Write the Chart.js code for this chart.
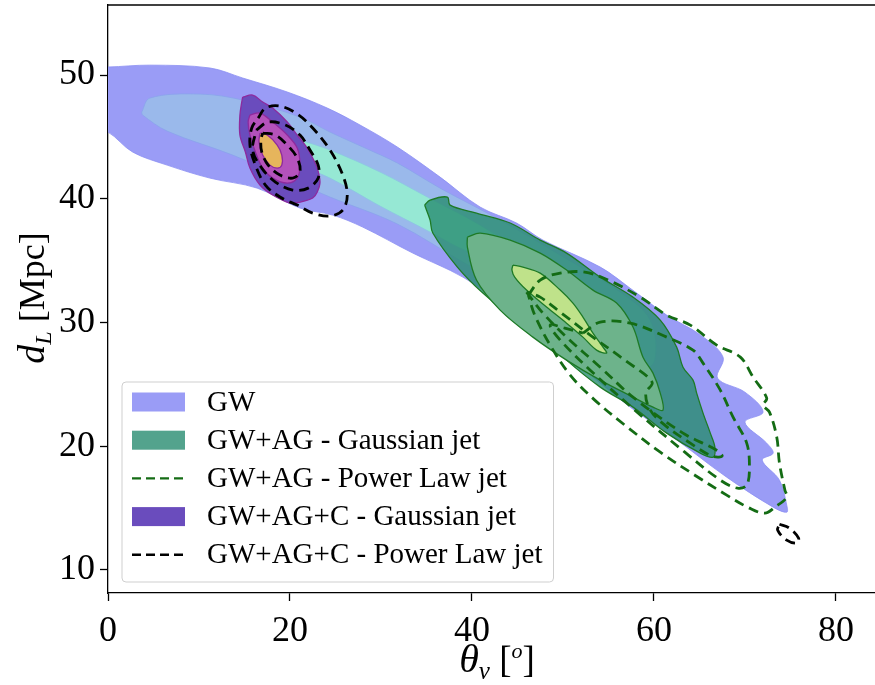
<!DOCTYPE html>
<html>
<head>
<meta charset="utf-8">
<script src="https://cdn.jsdelivr.net/npm/chart.js@4.4.1/dist/chart.umd.min.js"></script>
<style>
  html, body { margin: 0; padding: 0; background: #fff; }
</style>
</head>
<body>
<canvas id="chart" width="875" height="685"></canvas>
<script>
// axes
const xTicks = [0, 20, 40, 60, 80];
const yTicks = [10, 20, 30, 40, 50];
const xRange = [0, 84.3];
const yRange = [8.14, 55.66];
const xTitle = ['θ', 'v', ' [', 'o', ']'];
const yTitle = ['d', 'L', ' [Mpc]'];
const legendLabels = ['GW', 'GW+AG - Gaussian jet', 'GW+AG - Power Law jet',
                      'GW+AG+C - Gaussian jet', 'GW+AG+C - Power Law jet'];

// GW credible regions, [theta_v, d_L], outer -> inner
const gwOuter = [[-1, 50.7], [0, 50.65], [4.6, 50.8], [11.2, 50.57], [14.8, 49.76], [19.7, 48.63],
  [24.1, 47.33], [27.7, 45.96], [31.8, 44.18], [36.5, 41.75], [40.9, 39.33], [44.9, 38.04],
  [47.8, 36.66], [54.1, 34.48], [57.7, 32.6], [61.4, 30.6], [65.1, 29.0], [67.6, 27.2],
  [67.0, 25.5], [70.0, 24.37], [72.0, 22.76], [70.0, 21.95], [72.4, 20.25], [73.1, 19.44],
  [71.9, 18.88], [73.8, 17.26], [74.6, 15.24], [74.6, 14.67], [73.1, 15.08], [68.0, 17.5],
  [62.1, 20.74], [57.4, 23.16], [51.1, 26.96], [47.5, 29.14], [43.8, 31.25], [39.0, 33.67],
  [33.5, 35.61], [28.0, 37.71], [24.7, 38.68], [21.1, 39.25], [16.4, 40.86], [11.2, 41.67],
  [6.5, 42.72], [2.7, 43.78], [0, 45.39], [-1, 45.3]];
const gwMid = [[3.7, 47.0], [4.6, 48.14], [10.1, 48.46], [14.8, 47.98], [21.1, 46.6], [24.4, 45.39],
  [28.5, 44.02], [31.8, 42.89], [36.5, 40.86], [43.1, 38.28], [49.7, 35.45], [56.3, 32.46],
  [59.6, 30.19], [60.1, 26.96], [58.5, 26.15], [54.1, 28.17], [47.5, 31.41], [39.0, 34.88],
  [31.8, 37.96], [24.4, 40.14], [21.1, 41.19], [13.7, 43.53], [6.5, 45.47], [3.8, 46.77]];
const gwInner = [[17.6, 45.55], [21.1, 44.75], [24.4, 43.94], [29.9, 42.16], [35.1, 40.14],
  [40.9, 37.87], [45.3, 35.69], [46.2, 34.64], [43.6, 34.56], [38.7, 36.01], [35.4, 37.31],
  [29.9, 39.41], [24.4, 41.67], [21.1, 42.64], [18.4, 43.53], [17.0, 44.58]];

// GW+AG, Gaussian jet
const agGaussOuter = [[34.8, 39.49], [35.4, 39.89], [37.3, 40.14], [37.6, 39.49], [40.5, 38.84],
  [44.2, 38.04], [47.5, 36.66], [50.4, 35.61], [54.1, 33.67], [57.7, 32.05], [60.7, 30.19],
  [62.5, 28.01], [63.2, 26.39], [64.3, 25.34], [64.7, 24.29], [65.4, 22.68], [66.2, 21.06],
  [66.7, 19.93], [66.5, 19.12], [65.1, 19.44], [61.4, 21.06], [57.7, 23.16], [54.1, 24.78],
  [50.4, 26.96], [48.6, 28.33], [44.9, 30.19], [41.2, 32.38], [38.4, 34.48], [35.7, 37.23],
  [35.4, 38.28]];
const agGaussMid = [[39.5, 36.9], [40.9, 37.23], [44.2, 36.66], [47.5, 35.61], [50.4, 34.24],
  [53.3, 32.62], [55.9, 31.57], [57.7, 29.63], [58.8, 27.2], [59.9, 25.91], [60.7, 24.29],
  [61.0, 22.92], [59.9, 23.16], [57.7, 23.97], [54.1, 25.34], [50.4, 26.96], [46.7, 28.82],
  [43.1, 31.0], [40.5, 33.43], [39.5, 36.09]];
const agGaussInner = [[44.5, 34.64], [45.6, 34.48], [47.5, 33.99], [49.7, 32.62], [51.1, 31.57],
  [52.2, 30.44], [53.3, 29.14], [54.4, 28.01], [54.8, 27.53], [53.7, 27.77], [52.2, 28.82],
  [50.4, 29.95], [48.2, 31.25], [46.0, 32.62], [44.7, 33.67], [44.4, 34.24]];

// GW+AG, power law jet
const agPlOuter = [[46.2, 32.21], [47.5, 33.43], [49.7, 33.99], [52.4, 34.07], [55.2, 33.35],
  [58.5, 32.05], [61.4, 30.6], [64.0, 29.79], [66.9, 28.17], [69.5, 27.2], [70.9, 25.59],
  [72.4, 23.89], [72.0, 23.32], [72.7, 22.76], [73.5, 20.74], [73.8, 18.63], [74.4, 16.45],
  [74.6, 15.89], [73.3, 15.08], [72.2, 14.59], [70.5, 15.0], [68.0, 16.05], [64.5, 17.66],
  [60.7, 19.52], [56.8, 21.71], [53.5, 23.73], [50.8, 25.75], [48.6, 28.17], [46.9, 30.6]];
const agPlMid = [[52.2, 29.14], [54.1, 30.03], [57.4, 29.95], [61.4, 28.82], [64.3, 27.77],
  [65.4, 26.72], [67.3, 24.53], [68.7, 22.35], [70.2, 20.25], [70.5, 18.31], [70.2, 16.86],
  [69.2, 16.61], [67.3, 17.26], [63.4, 19.52], [57.9, 22.92], [53.0, 26.15], [49.7, 28.58],
  [48.6, 29.79], [50.2, 29.55]];
const agPlInner = [[46.0, 32.46], [47.8, 30.76], [50.4, 28.82], [54.1, 26.39], [57.7, 23.97],
  [63.2, 21.06], [66.9, 19.68], [67.5, 19.2], [66.4, 19.2], [64.0, 20.25], [61.2, 21.71],
  [59.6, 22.92], [59.1, 24.29], [59.8, 25.18], [56.8, 26.96], [53.0, 28.98], [49.7, 30.84],
  [47.5, 32.05]];

// GW+AG+C, Gaussian jet
const agcGaussOuter = [[14.8, 48.22], [15.9, 48.38], [17.0, 47.82], [18.1, 47.33], [19.7, 46.2],
  [20.8, 45.15], [21.9, 44.1], [22.5, 43.29], [23.0, 42.48], [23.3, 41.35], [23.0, 40.54],
  [22.5, 40.06], [21.1, 39.73], [20.0, 39.65], [18.1, 40.3], [16.7, 41.11], [15.6, 42.48],
  [15.1, 43.78], [14.5, 45.15], [14.5, 46.77], [14.7, 47.82]];
const agcGaussMid = [[15.6, 46.77], [16.7, 46.93], [18.1, 46.2], [19.7, 45.15], [20.8, 44.1],
  [21.1, 42.72], [20.8, 41.67], [19.7, 41.27], [18.1, 41.67], [17.0, 42.48], [16.2, 43.78],
  [15.6, 45.15], [15.4, 46.2]];
const agcGaussInner = [[16.7, 45.31], [17.5, 45.15], [18.6, 44.34], [19.1, 43.53], [19.1, 42.72],
  [18.6, 42.48], [17.8, 42.72], [17.0, 43.53], [16.6, 44.58]];

// GW+AG+C, power law jet
const agcPlOuter = [[16.5, 46.52], [17.3, 47.33], [18.9, 47.49], [20.8, 46.85], [22.5, 45.72],
  [24.4, 43.94], [25.8, 41.92], [26.3, 40.3], [25.8, 39.09], [24.4, 38.6], [22.5, 38.84],
  [20.8, 39.49], [18.9, 40.14], [17.3, 41.11], [16.2, 42.72], [15.6, 44.34], [15.8, 45.72]];
const agcPlMid = [[16.3, 45.55], [17.6, 46.2], [19.5, 45.96], [21.1, 45.15], [22.2, 43.94],
  [23.1, 42.72], [23.1, 41.67], [22.0, 40.86], [20.3, 40.7], [18.4, 41.35], [16.9, 42.48],
  [15.9, 43.94]];
const agcPlInner = [[17.0, 45.31], [18.4, 45.15], [19.7, 44.34], [20.8, 43.29], [21.1, 42.16],
  [20.3, 41.67], [18.9, 41.92], [17.6, 42.72], [16.9, 43.78], [16.8, 44.75]];
const agcPlIsland = [[73.8, 13.7], [74.9, 13.38], [75.9, 12.57], [75.7, 12.17], [74.6, 12.41],
  [73.6, 13.22]];

const serif = "'Liberation Serif', 'DejaVu Serif', serif";

function loop(points) {
  return points.concat([points[0]]).map(p => ({ x: p[0], y: p[1] }));
}
function filled(points, fill, edge, edgeWidth, group) {
  return {
    data: loop(points), showLine: true, fill: 'shape', backgroundColor: fill,
    borderColor: edge, borderWidth: edgeWidth, pointRadius: 0, tension: 0.35, group: group
  };
}
function dashed(points, color, group) {
  return {
    data: loop(points), showLine: true, fill: false, borderColor: color, borderWidth: 2.8,
    borderDash: [10, 6], pointRadius: 0, tension: 0.35, group: group
  };
}

const green = '#146c14';
const datasets = [
  filled(gwOuter, '#9a9cf6', '#8c8ff2', 0.8, 0),
  filled(gwMid, '#9ab9eb', '#8aa3ec', 0.8, 0),
  filled(gwInner, '#96e8d4', '#8cc6e2', 0.8, 0),
  filled(agGaussOuter, 'rgba(40,140,112,0.8)', '#1e7a26', 1.3, 1),
  filled(agGaussMid, '#6db38b', '#1e7a26', 1.3, 1),
  filled(agGaussInner, '#bfe28a', '#1e7a26', 1.3, 1),
  dashed(agPlOuter, green, 2),
  dashed(agPlMid, green, 2),
  dashed(agPlInner, green, 2),
  filled(agcGaussOuter, '#6a4cbd', '#8e2a9e', 1.3, 3),
  filled(agcGaussMid, '#b452bb', '#8e2a9e', 1.3, 3),
  filled(agcGaussInner, '#e6b55c', '#8e2a9e', 1.3, 3),
  dashed(agcPlOuter, '#000', 4),
  dashed(agcPlMid, '#000', 4),
  dashed(agcPlInner, '#000', 4),
  dashed(agcPlIsland, '#000', 4)
];
// later datasets on top
datasets.forEach((d, i) => { d.order = datasets.length - i; });

const extras = {
  id: 'extras',
  afterDraw(chart) {
    const ctx = chart.ctx;
    const a = chart.chartArea;
    ctx.save();
    // top spine
    ctx.strokeStyle = '#000';
    ctx.lineWidth = 1.3;
    ctx.beginPath();
    ctx.moveTo(a.left, a.top);
    ctx.lineTo(a.right, a.top);
    ctx.stroke();

    // x title
    ctx.fillStyle = '#000';
    ctx.textBaseline = 'alphabetic';
    ctx.textAlign = 'left';
    const xParts = [
      [xTitle[0], 'italic 40px ' + serif, 0],
      [xTitle[1], 'italic 25px ' + serif, 7],
      [xTitle[2], '37px ' + serif, 0],
      [xTitle[3], 'italic 22px ' + serif, -14],
      [xTitle[4], '37px ' + serif, 0]
    ];
    let w = 0;
    xParts.forEach(p => { ctx.font = p[1]; w += ctx.measureText(p[0]).width; });
    let x = 497 - w / 2;
    xParts.forEach(p => {
      ctx.font = p[1];
      ctx.fillText(p[0], x, 672 + p[2]);
      x += ctx.measureText(p[0]).width;
    });

    // y title
    ctx.translate(44, 298);
    ctx.rotate(-Math.PI / 2);
    const yParts = [
      [yTitle[0], 'italic 38px ' + serif, 0],
      [yTitle[1], 'italic 24px ' + serif, 7],
      [yTitle[2], '36px ' + serif, 0]
    ];
    w = 0;
    yParts.forEach(p => { ctx.font = p[1]; w += ctx.measureText(p[0]).width; });
    x = -w / 2;
    yParts.forEach(p => {
      ctx.font = p[1];
      ctx.fillText(p[0], x, p[2]);
      x += ctx.measureText(p[0]).width;
    });
    ctx.restore();

    // legend
    ctx.save();
    ctx.font = '29px ' + serif;
    const textX = a.left + 99;
    let maxW = 0;
    legendLabels.forEach(t => { maxW = Math.max(maxW, ctx.measureText(t).width); });
    const rowH = 38.2;
    const boxL = a.left + 14;
    const boxR = textX + maxW + 11;
    const boxB = a.bottom - 11;
    const boxT = boxB - rowH * legendLabels.length - 9;
    ctx.fillStyle = 'rgba(255,255,255,0.8)';
    ctx.strokeStyle = '#cfcfcf';
    ctx.lineWidth = 1;
    ctx.beginPath();
    ctx.roundRect(boxL, boxT, boxR - boxL, boxB - boxT, 4);
    ctx.fill();
    ctx.stroke();
    legendLabels.forEach((t, i) => {
      const d = datasets.find(ds => ds.group === i);
      const cy = boxT + 20 + i * rowH;
      if (d.fill) {
        ctx.fillStyle = d.backgroundColor;
        ctx.fillRect(boxL + 10, cy - 9.5, 53, 19);
      } else {
        ctx.strokeStyle = d.borderColor;
        ctx.lineWidth = 2.4;
        ctx.setLineDash([9, 5]);
        ctx.beginPath();
        ctx.moveTo(boxL + 10, cy);
        ctx.lineTo(boxL + 63, cy);
        ctx.stroke();
        ctx.setLineDash([]);
      }
      ctx.fillStyle = '#000';
      ctx.textBaseline = 'middle';
      ctx.fillText(t, textX, cy + 1);
    });
    ctx.restore();
  }
};

const axisCommon = {
  type: 'linear',
  grid: { drawOnChartArea: false, drawTicks: true, tickLength: 8, tickColor: '#000', tickWidth: 1.3 },
  border: { color: '#000', width: 1.3 },
  ticks: { color: '#000', font: { family: serif, size: 36 }, padding: 5, maxRotation: 0 }
};

new Chart(document.getElementById('chart'), {
  type: 'scatter',
  data: { datasets: datasets },
  options: {
    responsive: false,
    animation: false,
    devicePixelRatio: 1,
    layout: { padding: { top: 5, right: 0, left: 0, bottom: 0 } },
    plugins: { legend: { display: false }, tooltip: { enabled: false } },
    scales: {
      x: Object.assign({}, axisCommon, {
        min: xRange[0], max: xRange[1],
        ticks: Object.assign({}, axisCommon.ticks, { padding: 9 }),
        afterBuildTicks: s => { s.ticks = xTicks.map(v => ({ value: v })); },
        afterFit: s => { s.height = 92; s.paddingLeft = 0; s.paddingRight = 0; }
      }),
      y: Object.assign({}, axisCommon, {
        min: yRange[0], max: yRange[1],
        afterBuildTicks: s => { s.ticks = yTicks.map(v => ({ value: v })); },
        afterFit: s => { s.width = 108; s.paddingTop = 0; s.paddingBottom = 0; }
      })
    }
  },
  plugins: [extras]
});
</script>
</body>
</html>
